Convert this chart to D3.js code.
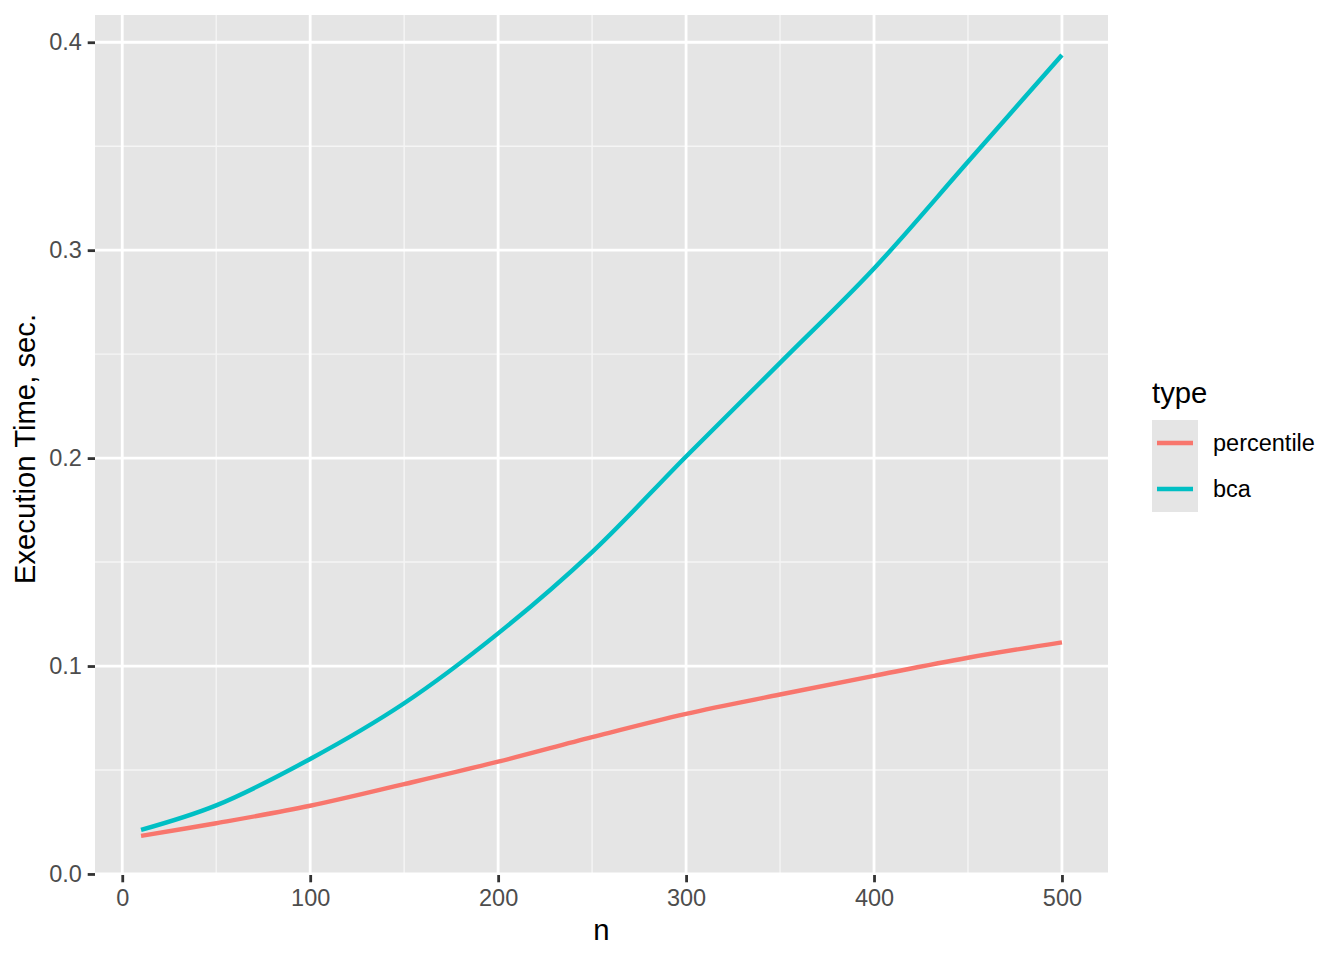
<!DOCTYPE html>
<html>
<head>
<meta charset="utf-8">
<script src="https://cdn.jsdelivr.net/npm/d3@7"></script>
<style>
  html, body { margin: 0; padding: 0; background: #ffffff; }
  svg { display: block; font-family: "Liberation Sans", Arial, Helvetica, sans-serif; }
</style>
</head>
<body>
<svg id="chart" width="1344" height="960"></svg>
<script>
// ---- data ----
const nValues = [10, 50, 100, 150, 200, 250, 300, 350, 400, 450, 500];
const percentileTimes = [0.0183, 0.0244, 0.0328, 0.0432, 0.0540, 0.0658, 0.0770, 0.0863, 0.0953, 0.1040, 0.1114];
const bcaTimes = [0.0212, 0.0330, 0.0553, 0.0821, 0.1157, 0.1548, 0.2008, 0.2458, 0.2912, 0.3425, 0.3939];
const seriesNames = ["percentile", "bca"];
const seriesColors = ["#F8766D", "#00BFC4"];
const xTicks = [0, 100, 200, 300, 400, 500];
const xMinor = [50, 150, 250, 350, 450];
const yTicks = [0.0, 0.1, 0.2, 0.3, 0.4];
const yMinor = [0.05, 0.15, 0.25, 0.35];

// ---- layout ----
const panel = { left: 95, right: 1108, top: 15, bottom: 875 };
const svg = d3.select("#chart");

const x = d3.scaleLinear().domain([-14.5, 524.5]).range([panel.left, panel.right]);
const y = d3.scaleLinear().domain([-0.0005, 0.4131]).range([panel.bottom, panel.top]);

// panel background
svg.append("rect")
  .attr("x", panel.left).attr("y", panel.top)
  .attr("width", panel.right - panel.left).attr("height", panel.bottom - panel.top)
  .attr("fill", "#E5E5E5");

const grid = svg.append("g");
grid.selectAll("line.xminor").data(xMinor).join("line")
  .attr("x1", d => x(d)).attr("x2", d => x(d))
  .attr("y1", panel.top).attr("y2", panel.bottom)
  .attr("stroke", "#F5F5F5").attr("stroke-width", 1.4);
grid.selectAll("line.yminor").data(yMinor).join("line")
  .attr("y1", d => y(d)).attr("y2", d => y(d))
  .attr("x1", panel.left).attr("x2", panel.right)
  .attr("stroke", "#F5F5F5").attr("stroke-width", 1.4);
grid.selectAll("line.xmajor").data(xTicks).join("line")
  .attr("x1", d => x(d)).attr("x2", d => x(d))
  .attr("y1", panel.top).attr("y2", panel.bottom)
  .attr("stroke", "#FFFFFF").attr("stroke-width", 2.8);
grid.selectAll("line.ymajor").data(yTicks).join("line")
  .attr("y1", d => y(d)).attr("y2", d => y(d))
  .attr("x1", panel.left).attr("x2", panel.right)
  .attr("stroke", "#FFFFFF").attr("stroke-width", 2.8);

// axes
const xAxis = svg.append("g")
  .attr("transform", `translate(0,${panel.bottom})`)
  .call(d3.axisBottom(x).tickValues(xTicks).tickFormat(d3.format("d")).tickSize(7.3).tickPadding(5.9));
const yAxis = svg.append("g")
  .attr("transform", `translate(${panel.left},0)`)
  .call(d3.axisLeft(y).tickValues(yTicks).tickFormat(d3.format(".1f")).tickSize(7.3).tickPadding(5.9));
[xAxis, yAxis].forEach(a => {
  a.select(".domain").remove();
  a.selectAll(".tick line").attr("stroke", "#333333").attr("stroke-width", 2.8);
  a.selectAll(".tick text").attr("fill", "#4D4D4D").style("font-size", "23.5px")
    .style("font-family", "'Liberation Sans', Arial, sans-serif");
});
xAxis.selectAll(".tick text").attr("dy", "0.757em");

// lines
const seriesValues = [percentileTimes, bcaTimes];
const line = d3.line().x(d => x(d[0])).y(d => y(d[1])).curve(d3.curveCatmullRom.alpha(0.5));
seriesNames.forEach((name, i) => {
  const pts = nValues.map((n, j) => [n, seriesValues[i][j]]);
  svg.append("path")
    .datum(pts)
    .attr("d", line)
    .attr("fill", "none")
    .attr("stroke", seriesColors[i])
    .attr("stroke-width", 4.4)
    .attr("stroke-linejoin", "round");
});

// axis titles
svg.append("text")
  .attr("x", (panel.left + panel.right) / 2).attr("y", 940)
  .attr("text-anchor", "middle").attr("fill", "#000000")
  .style("font-size", "29.3px").text("n");
svg.append("text")
  .attr("transform", `translate(35,449) rotate(-90)`)
  .attr("text-anchor", "middle").attr("fill", "#000000")
  .style("font-size", "29.3px").text("Execution Time, sec.");

// legend
const legend = svg.append("g").attr("transform", "translate(1152,0)");
legend.append("text").attr("x", 0).attr("y", 403)
  .attr("fill", "#000000").style("font-size", "29.3px").text("type");
seriesNames.forEach((name, i) => {
  const top = 420 + i * 46;
  legend.append("rect").attr("x", 0).attr("y", top).attr("width", 46).attr("height", 46)
    .attr("fill", "#E5E5E5");
  legend.append("line").attr("x1", 5).attr("x2", 41)
    .attr("y1", top + 23).attr("y2", top + 23)
    .attr("stroke", seriesColors[i]).attr("stroke-width", 4.4);
  legend.append("text").attr("x", 61).attr("y", top + 23).attr("dy", "0.35em")
    .attr("fill", "#000000").style("font-size", "23.5px").text(name);
});
</script>
</body>
</html>
